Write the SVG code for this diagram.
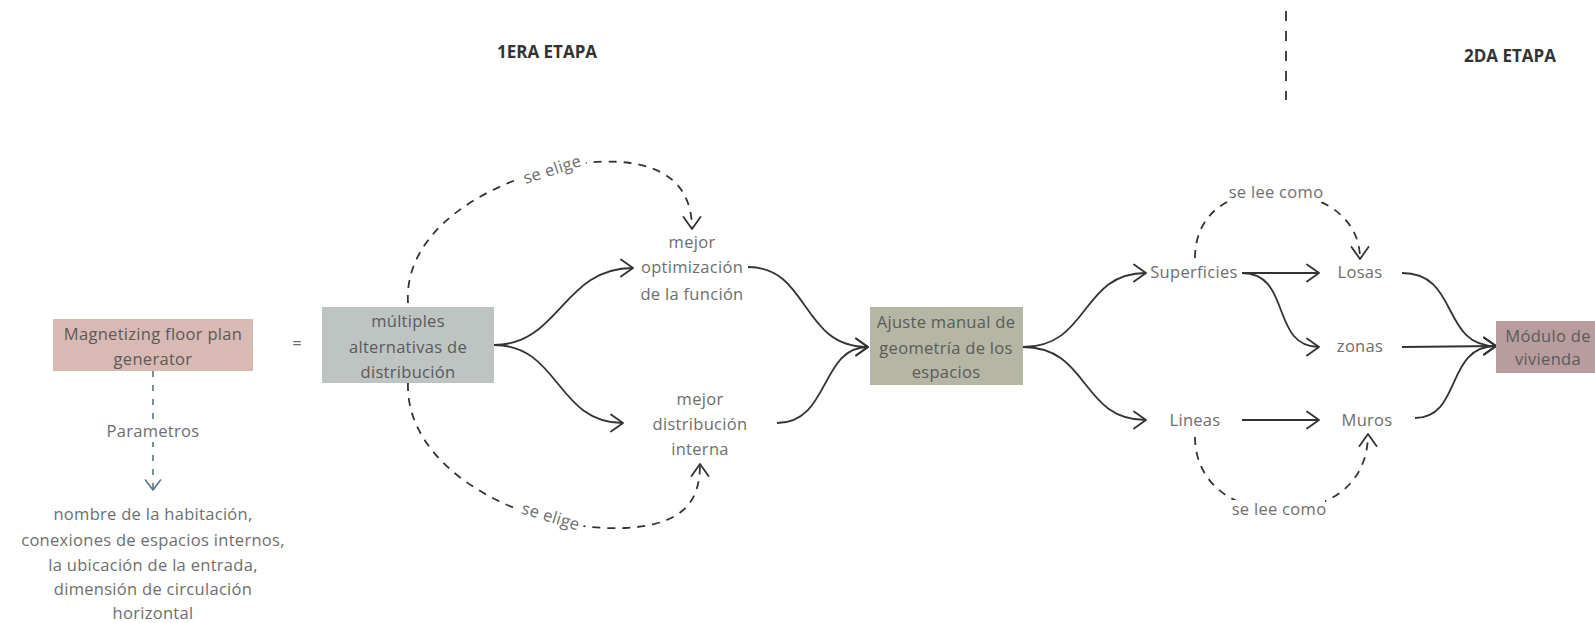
<svg xmlns="http://www.w3.org/2000/svg" width="1595" height="623" viewBox="0 0 1595 623">
  <defs>
    <marker id="arr" viewBox="0 0 14 20" refX="13" refY="10" markerWidth="14" markerHeight="20" markerUnits="userSpaceOnUse" orient="auto">
      <path d="M1,1.5 L13,10 L1,18.5" fill="none" stroke="#333" stroke-width="1.8" stroke-linecap="round" stroke-linejoin="round"/>
    </marker>
    <marker id="arrBlue" viewBox="0 0 12 18" refX="11" refY="9" markerWidth="12" markerHeight="18" markerUnits="userSpaceOnUse" orient="auto">
      <path d="M1,1.5 L11,9 L1,16.5" fill="none" stroke="#5d7380" stroke-width="1.6" stroke-linecap="round" stroke-linejoin="round"/>
    </marker>
    <style>
      text { font-family: "Open Sans", "Liberation Sans", sans-serif; font-size: 16.5px; letter-spacing: 0.3px; text-anchor: middle; }
      .node { fill: #5a5a5a; }
      .lbl { fill: #6e6e6e; }
      .head { fill: #333; font-weight: bold; font-size: 17px; letter-spacing: 0; }
      .bg { fill: #fff; }
      .solid { fill: none; stroke: #333; stroke-width: 1.8; marker-end: url(#arr); }
      .dash { fill: none; stroke: #333; stroke-width: 1.8; stroke-dasharray: 8 7; marker-end: url(#arr); }
      .param { fill: none; stroke: #5d7380; stroke-width: 1.6; stroke-dasharray: 6 8; marker-end: url(#arrBlue); }
    </style>
  </defs>
  <rect width="1595" height="623" fill="#fff"/>

  <!-- stage headings and divider -->
  <g id="stages">
    <text class="head" x="547" y="58">1ERA ETAPA</text>
    <text class="head" x="1510" y="62">2DA ETAPA</text>
    <line x1="1286" y1="11" x2="1286" y2="100" stroke="#333" stroke-width="1.8" stroke-dasharray="10 10"/>
  </g>

  <!-- connectors -->
  <g id="connectors">
    <path class="param" d="M153,371 L153,490"/>
    <path class="solid" d="M494,345 C560,345 562,268 633,268"/>
    <path class="solid" d="M494,345 C560,345 556,423 623,423"/>
    <path class="solid" d="M748,267 C810,267 800,347 868,347"/>
    <path class="solid" d="M777,423 C830,423 820,347 868,347"/>
    <path class="solid" d="M1023,347 C1090,347 1080,273 1146,273"/>
    <path class="solid" d="M1023,347 C1090,347 1080,420 1146,420"/>
    <path class="solid" d="M1242,273 L1319,273"/>
    <path class="solid" d="M1242,273 C1292,273 1270,347 1319,347"/>
    <path class="solid" d="M1242,420 L1319,420"/>
    <path class="solid" d="M1402,273 C1460,273 1440,346 1496,346"/>
    <path class="solid" d="M1402,347 L1496,346"/>
    <path class="solid" d="M1415,418 C1462,418 1445,346 1496,346"/>
    <path class="dash" d="M408,303 C402,205 555,152 630,163 C680,170 692,200 692,229"/>
    <path class="dash" d="M408,383 C405,470 525,532 625,528 C685,525 700,500 700,464"/>
    <path class="dash" d="M1195,258 C1195,212 1232,190 1277,192 C1330,195 1360,222 1360,259"/>
    <path class="dash" d="M1195,437 C1195,482 1232,510 1280,510 C1332,510 1368,482 1368,434"/>

    <rect class="bg" x="110" y="422" width="86" height="20"/>
    <text class="lbl" x="153" y="437">Parametros</text>
    <g transform="translate(553,172) rotate(-18)">
      <rect class="bg" x="-34" y="-13" width="68" height="20"/>
      <text class="lbl" x="0" y="3">se elige</text>
    </g>
    <g transform="translate(550,519) rotate(17)">
      <rect class="bg" x="-34" y="-13" width="68" height="20"/>
      <text class="lbl" x="0" y="3">se elige</text>
    </g>
    <rect class="bg" x="1230" y="182" width="92" height="20"/>
    <text class="lbl" x="1276" y="198">se lee como</text>
    <rect class="bg" x="1233" y="500" width="92" height="20"/>
    <text class="lbl" x="1279" y="515">se lee como</text>
  </g>

  <g id="generator">
    <rect x="53" y="319" width="200" height="52" fill="#d8b9b3"/>
    <text class="node" x="153" y="340">Magnetizing floor plan</text>
    <text class="node" x="153" y="365">generator</text>
  </g>

  <g id="parametros-list">
    <text class="lbl" x="153" y="520">nombre de la habitación,</text>
    <text class="lbl" x="153" y="546">conexiones de espacios internos,</text>
    <text class="lbl" x="153" y="571">la ubicación de la entrada,</text>
    <text class="lbl" x="153" y="595">dimensión de circulación</text>
    <text class="lbl" x="153" y="619">horizontal</text>
  </g>

  <g id="equals">
    <text class="lbl" x="297" y="349" font-size="12">=</text>
  </g>

  <g id="alternativas">
    <rect x="322" y="307" width="172" height="76" fill="#bec4c2"/>
    <text class="node" x="408" y="327">múltiples</text>
    <text class="node" x="408" y="353">alternativas de</text>
    <text class="node" x="408" y="378">distribución</text>
  </g>

  <g id="optimizacion">
    <text class="lbl" x="692" y="248">mejor</text>
    <text class="lbl" x="692" y="273">optimización</text>
    <text class="lbl" x="692" y="300">de la función</text>
  </g>

  <g id="distribucion">
    <text class="lbl" x="700" y="405">mejor</text>
    <text class="lbl" x="700" y="430">distribución</text>
    <text class="lbl" x="700" y="455">interna</text>
  </g>

  <g id="ajuste">
    <rect x="870" y="307" width="153" height="78" fill="#b5b6a4"/>
    <text class="node" x="946" y="328">Ajuste manual de</text>
    <text class="node" x="946" y="354">geometría de los</text>
    <text class="node" x="946" y="378">espacios</text>
  </g>

  <g id="superficies"><text class="lbl" x="1194" y="278">Superficies</text></g>
  <g id="lineas"><text class="lbl" x="1195" y="426">Lineas</text></g>
  <g id="losas"><text class="lbl" x="1360" y="278">Losas</text></g>
  <g id="zonas"><text class="lbl" x="1360" y="352">zonas</text></g>
  <g id="muros"><text class="lbl" x="1367" y="426">Muros</text></g>

  <g id="modulo">
    <rect x="1496" y="321" width="104" height="52" fill="#b99d9e"/>
    <text class="node" x="1548" y="342">Módulo de</text>
    <text class="node" x="1548" y="365">vivienda</text>
  </g>
</svg>
